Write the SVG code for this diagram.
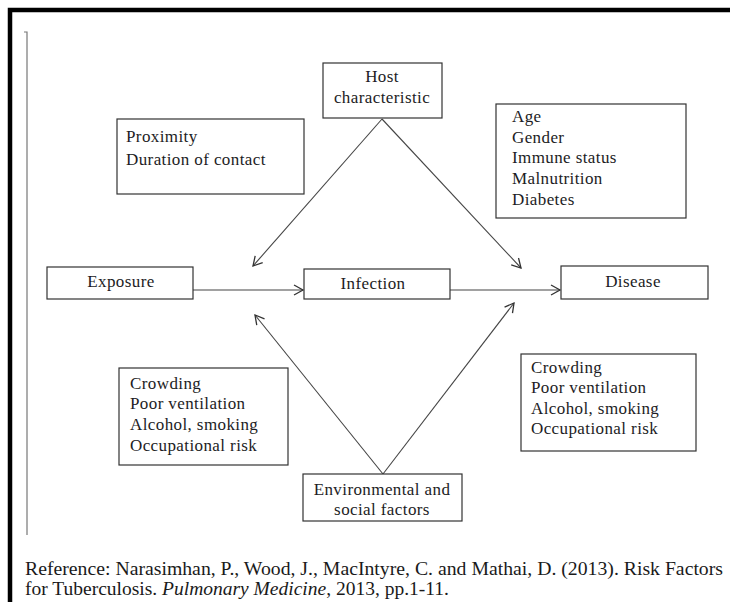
<svg xmlns="http://www.w3.org/2000/svg" width="730" height="602" viewBox="0 0 730 602">
<style>
.box{fill:#fff;stroke:#333;stroke-width:1.2}
.t{font-family:"Liberation Serif","Times New Roman",serif;font-size:17px;letter-spacing:0.4px;fill:#1c1c24}
.c{text-anchor:middle}
.ref{font-family:"Liberation Serif","Times New Roman",serif;font-size:19.5px;fill:#1a1a1a}
.conn line{stroke:#444;stroke-width:1.1;marker-end:url(#arr)}
</style>
<defs>
<marker id="arr" markerUnits="userSpaceOnUse" markerWidth="14" markerHeight="14" refX="10" refY="6" orient="auto">
<path d="M1,1 L10,6 L1,11" fill="none" stroke="#333" stroke-width="1.3"/>
</marker>
</defs>
<rect width="730" height="602" fill="#fff"/>
<path d="M10,602 V10 H730" fill="none" stroke="#000" stroke-width="4.5"/>
<path d="M24,32 H27 V535" fill="none" stroke="#777" stroke-width="1.2"/>
<g class="conn">
<line x1="193" y1="290" x2="303" y2="290"/>
<line x1="450" y1="290" x2="560" y2="290"/>
<line x1="382" y1="119" x2="253" y2="266"/>
<line x1="382" y1="119" x2="521" y2="268"/>
<line x1="383" y1="474" x2="255" y2="315"/>
<line x1="383" y1="474" x2="514" y2="303"/>
</g>
<g id="host"><rect class="box" x="323" y="63" width="119" height="55"/>
<text class="t c" x="382" y="82">Host</text><text class="t c" x="382" y="103">characteristic</text></g>
<g id="proximity"><rect class="box" x="117" y="119" width="187" height="75"/>
<text class="t" x="126" y="142">Proximity</text><text class="t" x="126" y="165">Duration of contact</text></g>
<g id="host-factors"><rect class="box" x="496" y="104" width="190" height="114"/>
<text class="t" x="512" y="122">Age</text><text class="t" x="512" y="143">Gender</text><text class="t" x="512" y="163">Immune status</text><text class="t" x="512" y="184">Malnutrition</text><text class="t" x="512" y="205">Diabetes</text></g>
<g id="exposure"><rect class="box" x="47" y="267" width="146" height="32"/>
<text class="t c" x="121" y="287">Exposure</text></g>
<g id="infection"><rect class="box" x="304" y="269" width="146" height="30"/>
<text class="t c" x="373" y="289">Infection</text></g>
<g id="disease"><rect class="box" x="561" y="266" width="147" height="33"/>
<text class="t c" x="633" y="287">Disease</text></g>
<g id="env-left"><rect class="box" x="119" y="368" width="169" height="97"/>
<text class="t" x="130" y="389">Crowding</text><text class="t" x="130" y="409">Poor ventilation</text><text class="t" x="130" y="430">Alcohol, smoking</text><text class="t" x="130" y="451">Occupational risk</text></g>
<g id="env-right"><rect class="box" x="521" y="354" width="175" height="97"/>
<text class="t" x="531" y="373">Crowding</text><text class="t" x="531" y="393">Poor ventilation</text><text class="t" x="531" y="414">Alcohol, smoking</text><text class="t" x="531" y="434">Occupational risk</text></g>
<g id="environment"><rect class="box" x="303" y="474" width="159" height="47"/>
<text class="t c" x="382" y="495">Environmental and</text><text class="t c" x="382" y="515">social factors</text></g>
<g id="reference">
<text class="ref" x="25" y="575" textLength="698" lengthAdjust="spacingAndGlyphs">Reference: Narasimhan, P., Wood, J., MacIntyre, C. and Mathai, D. (2013). Risk Factors</text>
<text class="ref" x="25" y="595">for Tuberculosis. <tspan font-style="italic">Pulmonary Medicine</tspan>, 2013, pp.1-11.</text>
</g>
</svg>
